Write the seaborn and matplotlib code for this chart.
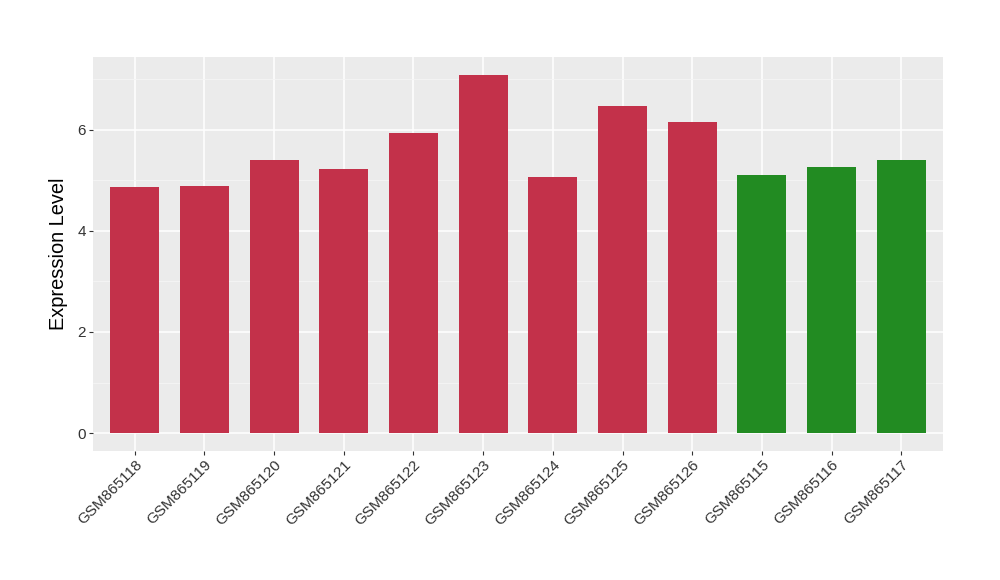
import numpy as np
import pandas as pd
import matplotlib
matplotlib.use("Agg")
import matplotlib.pyplot as plt
import seaborn as sns

samples = ["GSM865118", "GSM865119", "GSM865120", "GSM865121", "GSM865122", "GSM865123",
           "GSM865124", "GSM865125", "GSM865126", "GSM865115", "GSM865116", "GSM865117"]
values = [4.86, 4.88, 5.40, 5.22, 5.93, 7.08, 5.06, 6.46, 6.14, 5.10, 5.26, 5.40]
groups = ["a"] * 9 + ["b"] * 3
colors = {"a": "#C3314A", "b": "#228B22"}

df = pd.DataFrame({"sample": samples, "value": values, "group": groups})

sns.set_theme(style="darkgrid", rc={"axes.facecolor": "#EBEBEB", "grid.color": "white"})
plt.rcParams['font.family'] = ['Liberation Sans', 'DejaVu Sans']

fig = plt.figure(figsize=(10, 5.8), dpi=100)
ax = fig.add_axes([0.093, 0.2224, 0.85, 0.6793])
sns.barplot(data=df, x="sample", y="value", hue="group", palette=colors,
            order=samples, width=0.7, dodge=False, legend=False, saturation=1,
            linewidth=0, edgecolor="none", ax=ax)

ymax = max(values)
ax.set_ylim(-0.05 * ymax, ymax * 1.05)
ax.set_xlim(-0.6, len(samples) - 0.4)
ax.set_yticks([0, 2, 4, 6])
ax.set_yticks([1, 3, 5, 7], minor=True)
ax.grid(True, which="major", color="white", linewidth=1.1)
ax.grid(True, which="minor", axis="y", color="#F5F5F5", linewidth=0.6)
ax.set_axisbelow(True)
for s in ax.spines.values():
    s.set_visible(False)

ax.tick_params(axis="both", which="major", length=3, width=0.8, color="#333333",
               labelsize=11, labelcolor="#333333", pad=2, bottom=True, left=True)
ax.tick_params(axis="both", which="minor", length=0)
plt.setp(ax.get_xticklabels(), rotation=45, ha="right", rotation_mode="anchor")
ax.set_xlabel("")
ax.set_ylabel("Expression Level", fontsize=14.4, color="black", labelpad=7)

fig.savefig("out.png", dpi=100)
